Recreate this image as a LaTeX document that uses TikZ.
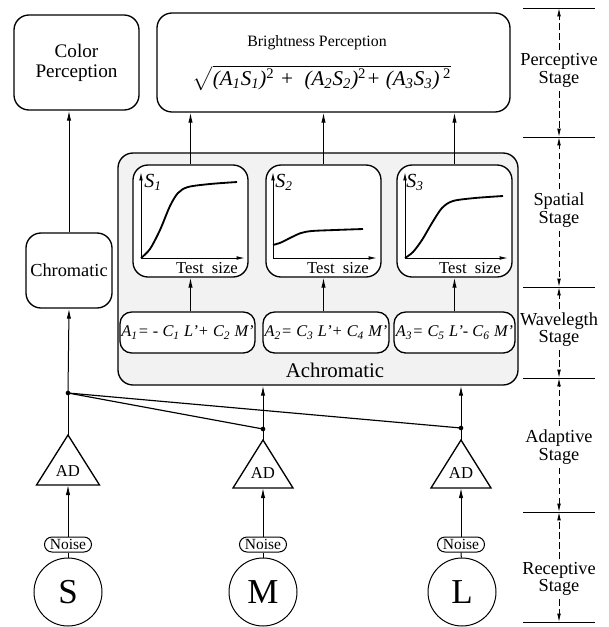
\documentclass[tikz,border=0pt]{standalone}
\usepackage{fontspec}
\usepackage{amsmath}
\setmainfont{Liberation Serif}
\usetikzlibrary{arrows.meta}

\begin{document}
\begin{tikzpicture}[x=0.6pt, y=-0.6pt, every node/.style={align=center},
    box/.style={draw, line width=0.8pt, rounded corners=9pt},
    plotbox/.style={box, fill=white, minimum width=69pt, minimum height=67.2pt},
    eqbox/.style={box, fill=white, rounded corners=7pt, minimum height=24.6pt, inner sep=0.5pt, font=\fontsize{9.8}{11}\selectfont\itshape},
    noisebox/.style={draw, line width=0.6pt, rounded corners=4.5pt, minimum width=28.2pt, minimum height=9pt, inner sep=0.5pt, font=\fontsize{9.3}{9}\selectfont},
    cone/.style={draw, circle, line width=0.6pt, minimum size=40.8pt, inner sep=0pt, font=\fontsize{21}{21}\selectfont},
    arr/.style={-{Latex[length=6pt,width=2.6pt]}, line width=0.6pt},
    axarr/.style={-{Latex[length=5pt,width=2.2pt]}, line width=0.6pt},
    curve/.style={line width=1.1pt},
    stagelbl/.style={font=\fontsize{11}{10.5}\selectfont, inner sep=2pt},
    stagearr/.style={-{Latex[length=5pt,width=2.2pt]}, dashed, dash pattern=on 4pt off 2pt, line width=0.5pt}]
    \useasboundingbox (0,0) rectangle (609,627);

    % perceptive stage
    \node[box, minimum width=75pt, minimum height=57pt, font=\fontsize{11.5}{12}\selectfont] (colp) at (76.5,62.5) {Color\\Perception};
    \node[box, minimum width=211.8pt, minimum height=59.4pt] (bp) at (333.5,62.5) {};
    \node[font=\fontsize{9.5}{11}\selectfont] (bptitle) at (317,43) {Brightness Perception};
    \node[font=\fontsize{12.6}{13}\selectfont\itshape] (bpform) at (322,78) {$\sqrt{\text{\itshape (A\textsubscript{1}S\textsubscript{1})\textsuperscript{\upshape 2} + \ (A\textsubscript{2}S\textsubscript{2})\textsuperscript{\upshape 2}+ (A\textsubscript{3}S\textsubscript{3})\,\textsuperscript{\upshape 2}}}$};

    % chromatic / achromatic channels
    \node[box, minimum width=51.6pt, minimum height=45pt, inner sep=1pt, font=\fontsize{11}{12}\selectfont] (chrom) at (69,270.5) {Chromatic};
    \node[box, fill=black!5, minimum width=240pt, minimum height=139.2pt] (achr) at (318,269) {};
    \node[font=\fontsize{12.5}{14}\selectfont] (achrtxt) at (335,370) {Achromatic};

    \node[plotbox] (s1) at (190.5,221) {};
    \node[plotbox] (s2) at (323.5,221) {};
    \node[plotbox] (s3) at (454.5,221) {};

    \node[eqbox, minimum width=81pt] (a1) at (187.5,332.5) {A\textsubscript{1}= - C\textsubscript{1} L'+ C\textsubscript{2} M'};
    \node[eqbox, minimum width=75.6pt] (a2) at (326,332.5) {A\textsubscript{2}= C\textsubscript{3} L'+ C\textsubscript{4} M'};
    \node[eqbox, minimum width=72.6pt] (a3) at (454.5,332.5) {A\textsubscript{3}= C\textsubscript{5} L'- C\textsubscript{6} M'};

    % spatial curves
    \draw[axarr] (141,258) -- (141,172);
    \draw[axarr] (141,258) -- (245,258);
    \draw[curve] plot[smooth] coordinates {(141,258) (150,249) (160,230) (170,206) (178,193) (188,187) (210,184) (237,182)};
    \node[font=\fontsize{12}{12}\selectfont\itshape] (s1lbl) at (153,182) {S\textsubscript{1}};
    \node[font=\fontsize{10}{11}\selectfont] (s1ax) at (207,268) {Test \ size};

    \draw[axarr] (273,258) -- (273,172);
    \draw[axarr] (273,258) -- (377,258);
    \draw[curve] plot[smooth] coordinates {(273,245) (281,242.5) (291,237.5) (301,233) (312,231) (335,230) (363,229)};
    \node[font=\fontsize{12}{12}\selectfont\itshape] (s2lbl) at (284,182) {S\textsubscript{2}};
    \node[font=\fontsize{10}{11}\selectfont] (s2ax) at (338,268) {Test \ size};

    \draw[axarr] (405,258) -- (405,172);
    \draw[axarr] (405,258) -- (508,258);
    \draw[curve] plot[smooth] coordinates {(405,258) (413,252) (422,240) (432,223) (442,208) (453,201) (475,198) (503,196)};
    \node[font=\fontsize{12}{12}\selectfont\itshape] (s3lbl) at (415,182) {S\textsubscript{3}};
    \node[font=\fontsize{10}{11}\selectfont] (s3ax) at (470,268) {Test \ size};

    \draw[arr] (a1.north -| s1) -- (s1.south);
    \draw[arr] (a2.north -| s2) -- (s2.south);
    \draw[arr] (a3.north -| s3) -- (s3.south);
    \draw[arr] (s1.north) -- (s1.north |- bp.south);
    \draw[arr] (s2.north) -- (s2.north |- bp.south);
    \draw[arr] (s3.north) -- (s3.north |- bp.south);
    \draw[arr] (chrom.north) -- (chrom.north |- colp.south);

    % adaptive stage
    \draw[line width=0.8pt] (68,435) coordinate (ts) -- (36.5,485) -- (99.5,485) coordinate[pos=.5] (bs) -- cycle;
    \draw[line width=0.8pt] (263,440) coordinate (tm) -- (233,488) -- (293,488) coordinate[pos=.5] (bm) -- cycle;
    \draw[line width=0.8pt] (461,440) coordinate (tl) -- (431,488) -- (491,488) coordinate[pos=.5] (bl) -- cycle;
    \node[font=\fontsize{10}{11}\selectfont] (ads) at (68,471) {AD};
    \node[font=\fontsize{10}{11}\selectfont] (adm) at (263,473) {AD};
    \node[font=\fontsize{10}{11}\selectfont] (adl) at (461,473) {AD};

    \coordinate (j) at (68,393);
    \coordinate (dm) at (263,429);
    \coordinate (dl) at (461,428);
    \draw[line width=0.6pt] (ts) -- (j);
    \draw[arr] (j) -- (chrom.south);
    \draw[line width=0.7pt] (j) -- (dm);
    \draw[line width=0.7pt] (j) -- (dl);
    \draw[line width=0.6pt] (tm) -- (dm);
    \draw[line width=0.6pt] (tl) -- (dl);
    \draw[arr] (dm) -- (dm |- achr.south);
    \draw[arr] (dl) -- (dl |- achr.south);
    \fill (j) circle (1.4pt);
    \fill (dm) circle (1.4pt);
    \fill (dl) circle (1.4pt);

    % receptive stage
    \node[cone] (cs) at (68,592) {S};
    \node[cone] (cm) at (263,592) {M};
    \node[cone] (cl) at (462,592) {L};
    \node[noisebox] (ns) at (68,544.5) {Noise};
    \node[noisebox] (nm) at (263,544.5) {Noise};
    \node[noisebox] (nl) at (461,544.5) {Noise};
    \draw[line width=0.6pt] (cs) -- (ns);
    \draw[line width=0.6pt] (cm) -- (nm);
    \draw[line width=0.6pt] (cl) -- (nl);
    \draw[arr] (ns) -- (bs);
    \draw[arr] (nm) -- (bm);
    \draw[arr] (nl) -- (bl);

    % stage scale
    \draw[line width=0.6pt] (523,8) -- coordinate (h0) (595,8);
    \draw[line width=0.6pt] (523,137) -- coordinate (h1) (595,137);
    \draw[line width=0.6pt] (523,287) -- coordinate (h2) (595,287);
    \draw[line width=0.6pt] (523,378) -- coordinate (h3) (595,378);
    \draw[line width=0.6pt] (523,512) -- coordinate (h4) (595,512);
    \draw[line width=0.6pt] (523,622) -- coordinate (h5) (595,622);
    \node[stagelbl] (perc) at (559,70.5) {Perceptive\\Stage};
    \node[stagelbl] (spat) at (559,210) {Spatial\\Stage};
    \node[stagelbl] (wave) at (559,329.5) {Wavelegth\\Stage};
    \node[stagelbl] (adap) at (559,447) {Adaptive\\Stage};
    \node[stagelbl] (rece) at (559,579) {Receptive\\Stage};
    \draw[stagearr] (perc) -- (h0);
    \draw[stagearr] (perc) -- (h1);
    \draw[stagearr] (spat) -- (h1);
    \draw[stagearr] (spat) -- (h2);
    \draw[stagearr] (wave) -- (h2);
    \draw[stagearr] (wave) -- (h3);
    \draw[stagearr] (adap) -- (h3);
    \draw[stagearr] (adap) -- (h4);
    \draw[stagearr] (rece) -- (h4);
    \draw[stagearr] (rece) -- (h5);
\end{tikzpicture}
\end{document}
